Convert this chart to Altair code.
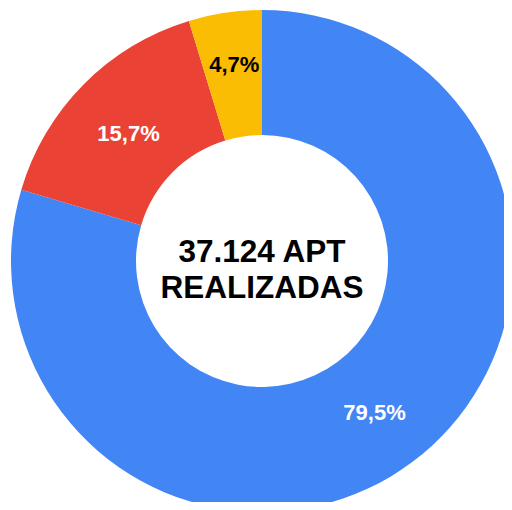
import altair as alt
import pandas as pd

categories = ["A", "B", "C"]
values = [79.5, 15.7, 4.7]
labels = ["79,5%", "15,7%", "4,7%"]
colors = ["#4285F4", "#EA4335", "#FBBC04"]
center_lines = ["37.124 APT", "REALIZADAS"]

df = pd.DataFrame({"cat": categories, "value": values, "label": labels,
                   "order": [0, 1, 2]})
TOTAL = sum(values)

CX, CY = 254, 253
FONT = "Liberation Sans"

arcs = alt.Chart(df).mark_arc(outerRadius=251, innerRadius=126).encode(
    theta=alt.Theta("value:Q", stack=True, scale=alt.Scale(domain=[0, TOTAL])),
    order=alt.Order("order:Q"),
    color=alt.Color("cat:N", scale=alt.Scale(domain=categories, range=colors), legend=None),
    x=alt.value(CX), y=alt.value(CY),
)

base_all = alt.Chart(df).transform_window(
    cum="sum(value)", sort=[alt.SortField("order")], frame=[None, 0]
).transform_calculate(mid="datum.cum - datum.value / 2")


def lab(cat, color, dy):
    return base_all.transform_filter(alt.datum.cat == cat).mark_text(
        radius=188, font=FONT, fontSize=22, fontWeight="bold",
        color=color, baseline="middle", align="center", dy=dy).encode(
        theta=alt.Theta("mid:Q", scale=alt.Scale(domain=[0, TOTAL])),
        text="label:N", x=alt.value(CX), y=alt.value(CY),
    )


l1 = lab("A", "white", 1)
l2 = lab("B", "white", 5)
l3 = lab("C", "black", -10)

ctext = pd.DataFrame({"t": center_lines, "i": [0, 1]})
center = alt.Chart(ctext).mark_text(font=FONT, fontSize=31.5, fontWeight="bold",
                                     color="black", baseline="alphabetic", align="center").encode(
    text="t:N",
    x=alt.value(CX),
    y=alt.Y("i:Q", scale=alt.Scale(domain=[0, 1], range=[254, 290]), axis=None),
)

chart = alt.layer(arcs, l1, l2, l3, center).resolve_scale(theta="independent", y="independent").properties(
    width=496, height=494, padding=0, autosize=alt.AutoSizeParams(type="none")
).configure_view(stroke=None)

chart.save("out.html", embed_options={"renderer": "svg", "actions": False})
